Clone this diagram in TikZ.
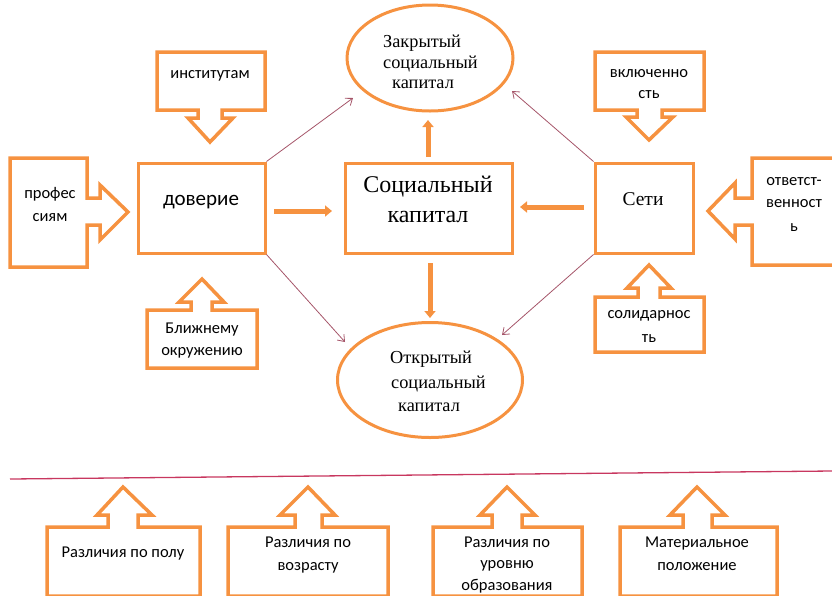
\documentclass[tikz,border=0pt]{standalone}
\usepackage{fontspec}
\setmainfont{Liberation Serif}
\newfontfamily\calib{Carlito}
\usetikzlibrary{shapes.geometric,arrows.meta}
\definecolor{org}{RGB}{246,146,64}
\definecolor{thinc}{RGB}{165,85,105}
\definecolor{sepc}{RGB}{200,55,95}
\tikzset{
  callout/.style={draw=org, line width=3.5pt, line join=miter, fill=white},
  cbox/.style={draw=org, line width=3pt, inner sep=0pt, fill=white},
  cell/.style={draw=org, line width=3pt, ellipse, inner sep=0pt, fill=white},
  ctext/.style={font=\calib\fontsize{16.5}{19}\selectfont, anchor=base, inner sep=0pt},
  stext/.style={font=\fontsize{18.3}{21}\selectfont, anchor=base west, inner sep=0pt},
  bigarr/.style={draw=org, line width=5pt, -{Triangle[length=7pt,width=11pt]}},
  thinarr/.style={draw=thinc, line width=0.8pt, -{Straight Barb[length=6pt,width=9pt]}}
}
\begin{document}
\begin{tikzpicture}[x=1pt,y=-1pt]
\useasboundingbox (0,0) rectangle (832,595);
\begin{scope}
\clip (0,0) rectangle (832,595);
% separator line
\draw[sepc, line width=1.3pt] (10,479) -- (832,471);

% main boxes
\node[cbox, minimum width=127pt, minimum height=90pt] (dov) at (201.5,208) {};
\node[cbox, minimum width=167pt, minimum height=90pt] (sk) at (428.5,208) {};
\node[cbox, minimum width=98pt, minimum height=90pt] (seti) at (644,208) {};
\node[cell, minimum width=166pt, minimum height=106pt] (zk) at (430,58) {};
\node[cell, minimum width=185pt, minimum height=115pt] (ok) at (430,380) {};

% texts of main shapes
\node[ctext, font=\calib\fontsize{21}{24}\selectfont] (tdov) at (201,205) {доверие};
\node[anchor=base, inner sep=0pt, font=\fontsize{24}{28}\selectfont] (tsk1) at (428,192) {Социальный};
\node[anchor=base, inner sep=0pt, font=\fontsize{24}{28}\selectfont] (tsk2) at (428,222) {капитал};
\node[anchor=base, inner sep=0pt, font=\fontsize{19.5}{24}\selectfont] (tseti) at (643,205) {Сети};
\node[stext] (z1) at (383,47) {Закрытый};
\node[stext] (z2) at (383,68) {социальный};
\node[stext] (z3) at (392,88) {капитал};
\node[stext] (o1) at (390,363) {Открытый};
\node[stext] (o2) at (391,388) {социальный};
\node[stext] (o3) at (398,411) {капитал};

% callouts: institutes (down)
\draw[callout] (157,52) -- (265,52) -- (265,110) -- (222,110) -- (222,118) -- (233,118) -- (210,142) -- (188,118) -- (198,118) -- (198,110) -- (157,110) -- cycle;
\node[ctext] (tinst) at (210,78) {институтам};
% inclusion (down)
\draw[callout] (595,52) -- (704,52) -- (704,110) -- (662,110) -- (662,117) -- (673,117) -- (649,140) -- (626,117) -- (637,117) -- (637,110) -- (595,110) -- cycle;
\node[ctext] (tvk1) at (649,77) {включенно};
\node[ctext] (tvk2) at (649,98) {сть};
% professions (right)
\draw[callout] (10,158) -- (87,158) -- (87,198) -- (100,198) -- (100,185) -- (128,212) -- (100,240) -- (100,225) -- (87,225) -- (87,267) -- (10,267) -- cycle;
\node[ctext] (tpr1) at (50,198) {профес};
\node[ctext] (tpr2) at (50,221) {сиям};
% responsibility (left)
\draw[callout] (845,158) -- (752,158) -- (752,198) -- (735,198) -- (735,183) -- (708,211) -- (735,239) -- (735,225) -- (752,225) -- (752,265) -- (845,265) -- cycle;
\node[ctext] (tot1) at (794,185) {ответст-};
\node[ctext] (tot2) at (794,207) {венност};
\node[ctext] (tot3) at (794,231) {ь};
% close circle (up)
\draw[callout] (147,368) -- (147,310) -- (191,310) -- (191,302) -- (179,302) -- (202,279) -- (224,302) -- (212,302) -- (212,310) -- (257,310) -- (257,368) -- cycle;
\node[ctext] (tbl1) at (202,333) {Ближнему};
\node[ctext] (tbl2) at (202,355) {окружению};
% solidarity (up)
\draw[callout] (595,352) -- (595,297) -- (638,297) -- (638,288) -- (627,288) -- (649,265) -- (671,288) -- (660,288) -- (660,297) -- (704,297) -- (704,352) -- cycle;
\node[ctext] (tso1) at (649,318) {солидарнос};
\node[ctext] (tso2) at (649,342) {ть};

% bottom callouts (up)
\draw[callout] (47,596) -- (47,527) -- (108,527) -- (108,515) -- (97,515) -- (123,487) -- (152,515) -- (138,515) -- (138,527) -- (200,527) -- (200,596) -- cycle;
\node[ctext] (tb1) at (123,557) {Различия по полу};
\draw[callout] (228,596) -- (228,527) -- (295,527) -- (295,515) -- (280,515) -- (308,487) -- (335,515) -- (322,515) -- (322,527) -- (388,527) -- (388,596) -- cycle;
\node[ctext] (tb2a) at (308,547) {Различия по};
\node[ctext] (tb2b) at (308,570) {возрасту};
\draw[callout] (433,596) -- (433,527) -- (492,527) -- (492,515) -- (480,515) -- (507,487) -- (535,515) -- (522,515) -- (522,527) -- (582,527) -- (582,596) -- cycle;
\node[ctext] (tb3a) at (507,547) {Различия по};
\node[ctext] (tb3b) at (507,568) {уровню};
\node[ctext] (tb3c) at (507,590) {образования};
\draw[callout] (620,596) -- (620,527) -- (683,527) -- (683,515) -- (670,515) -- (697,487) -- (725,515) -- (712,515) -- (712,527) -- (777,527) -- (777,596) -- cycle;
\node[ctext] (tb4a) at (697,547) {Материальное};
\node[ctext] (tb4b) at (697,570) {положение};

% thick arrows
\coordinate (a1s) at (428,157); \coordinate (a1e) at (428,120);
\coordinate (a2s) at (430,263); \coordinate (a2e) at (430,318);
\coordinate (a3s) at (274,211); \coordinate (a3e) at (332,211);
\coordinate (a4s) at (584,207); \coordinate (a4e) at (520,207);
\draw[bigarr] (a1s) -- (a1e);
\draw[bigarr] (a2s) -- (a2e);
\draw[bigarr] (a3s) -- (a3e);
\draw[bigarr] (a4s) -- (a4e);

% thin arrows
\coordinate (t1) at (353,98);
\coordinate (t2) at (512,91);
\coordinate (t3) at (345,342);
\coordinate (t4) at (502,335);
\draw[thinarr] (dov.north east) -- (t1);
\draw[thinarr] (seti.north west) -- (t2);
\draw[thinarr] (dov.south east) -- (t3);
\draw[thinarr] (seti.south west) -- (t4);
\end{scope}
\end{tikzpicture}
\end{document}
